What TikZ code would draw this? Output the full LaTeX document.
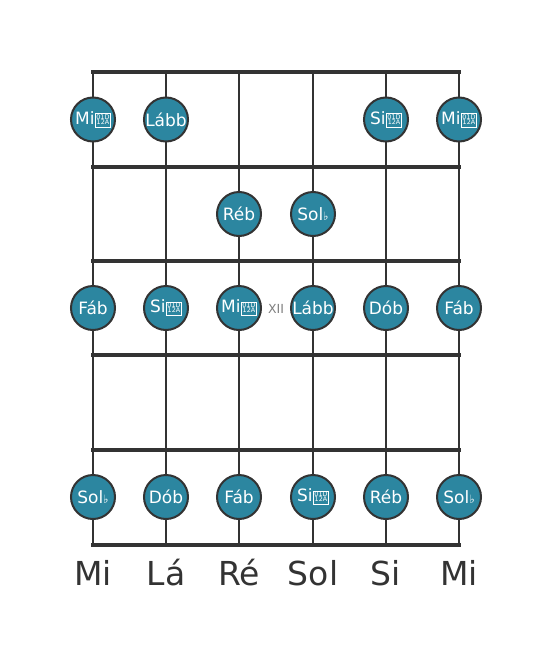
\documentclass[tikz,border=0pt]{standalone}
\usepackage{fontspec}
\setmainfont{DejaVu Sans}
\definecolor{dotfill}{RGB}{44,134,160}
\definecolor{ink}{RGB}{51,51,51}
\newcommand{\tofubox}{{\setlength{\fboxsep}{0.7pt}\setlength{\fboxrule}{0.6pt}\hspace{0.5pt}\fbox{\fontsize{6.4}{6.4}\selectfont\begin{tabular}[b]{@{}c@{}}01D\\[-1.4pt]12A\end{tabular}}}}
\newcommand{\flatsym}{{\fontsize{11.5}{11.5}\selectfont ♭}}
\begin{document}
\begin{tikzpicture}[x=1pt,y=-1pt,
  stringline/.style={draw=ink,line width=2.6pt},
  fretline/.style={draw=ink,line width=4.5pt},
  notedot/.style={circle,draw=ink,line width=2pt,fill=dotfill,minimum size=44pt,inner sep=0pt,text=white,font=\fontsize{17}{17}\selectfont},
  stringlabel/.style={text=ink,font=\fontsize{33}{34}\selectfont,anchor=base},
  fretmark/.style={text=gray,font=\fontsize{12.5}{12.5}\selectfont}]
\useasboundingbox (0,0) rectangle (553,656);
% strings
\foreach \i/\x in {1/93,2/166,3/239,4/313,5/386,6/459}{
  \coordinate (s\i top) at (\x,72);
  \coordinate (s\i bot) at (\x,545);
  \draw[stringline] (s\i top) -- (s\i bot);
}
% frets
\foreach \j/\y in {0/72,1/167,2/261,3/355,4/450,5/545}{
  \coordinate (f\j l) at (93,\y);
  \coordinate (f\j r) at (459,\y);
  \draw[fretline,line cap=rect] (f\j l) -- (f\j r);
}
% row 1
\node[notedot] (n11) at (93,119.5) {Mi\tofubox};
\node[notedot] (n12) at (166,119.5) {Lább};
\node[notedot] (n15) at (386,119.5) {Si\tofubox};
\node[notedot] (n16) at (459,119.5) {Mi\tofubox};
% row 2
\node[notedot] (n23) at (239,214) {Réb};
\node[notedot] (n24) at (313,214) {Sol\flatsym};
% row 3
\node[notedot] (n31) at (93,308) {Fáb};
\node[notedot] (n32) at (166,308) {Si\tofubox};
\node[notedot] (n33) at (239,308) {Mi\tofubox};
\node[notedot] (n34) at (313,308) {Lább};
\node[notedot] (n35) at (386,308) {Dób};
\node[notedot] (n36) at (459,308) {Fáb};
\node[fretmark] (xii) at (276,308.5) {XII};
% row 5
\node[notedot] (n51) at (93,497) {Sol\flatsym};
\node[notedot] (n52) at (166,497) {Dób};
\node[notedot] (n53) at (239,497) {Fáb};
\node[notedot] (n54) at (313,497) {Si\tofubox};
\node[notedot] (n55) at (386,497) {Réb};
\node[notedot] (n56) at (459,497) {Sol\flatsym};
% string names
\node[stringlabel] (l1) at (93,585) {Mi};
\node[stringlabel] (l2) at (166,585) {Lá};
\node[stringlabel] (l3) at (239,585) {Ré};
\node[stringlabel] (l4) at (313,585) {Sol};
\node[stringlabel] (l5) at (386,585) {Si};
\node[stringlabel] (l6) at (459,585) {Mi};
\end{tikzpicture}
\end{document}
